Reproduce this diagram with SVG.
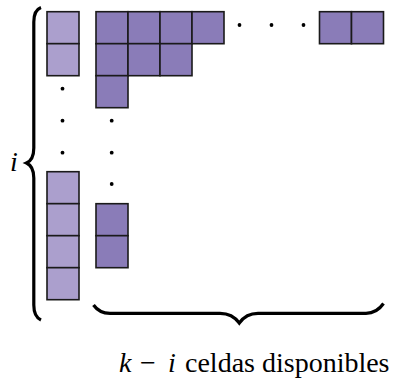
<svg xmlns="http://www.w3.org/2000/svg" width="400" height="383" viewBox="0 0 400 383">
<style>
.l{fill:#ab9fcd;stroke:#1a1a1a;stroke-width:1.6}
.d{fill:#8a7cb8;stroke:#1a1a1a;stroke-width:1.6}
.br{fill:none;stroke:#000;stroke-width:3.2;stroke-linecap:butt}
.dot{fill:#000}
</style>
<g id="left-column">
<rect class="l" x="47" y="11.7" width="32" height="32"/>
<rect class="l" x="47" y="43.7" width="32" height="32"/>
<rect class="l" x="47" y="171.7" width="32" height="32"/>
<rect class="l" x="47" y="203.7" width="32" height="32"/>
<rect class="l" x="47" y="235.7" width="32" height="32"/>
<rect class="l" x="47" y="267.7" width="32" height="32"/>
<circle class="dot" cx="62.5" cy="88.7" r="1.9"/>
<circle class="dot" cx="62.5" cy="120.7" r="1.9"/>
<circle class="dot" cx="62.5" cy="152.7" r="1.9"/>
</g>
<g id="row-1">
<rect class="d" x="96" y="11.7" width="32" height="32"/>
<rect class="d" x="128" y="11.7" width="32" height="32"/>
<rect class="d" x="160" y="11.7" width="32" height="32"/>
<rect class="d" x="192" y="11.7" width="32" height="32"/>
<circle class="dot" cx="239.5" cy="25" r="1.9"/>
<circle class="dot" cx="271.5" cy="25" r="1.9"/>
<circle class="dot" cx="303.5" cy="25" r="1.9"/>
<rect class="d" x="319.5" y="11.7" width="32" height="32"/>
<rect class="d" x="351.5" y="11.7" width="32" height="32"/>
</g>
<g id="row-2">
<rect class="d" x="96" y="43.7" width="32" height="32"/>
<rect class="d" x="128" y="43.7" width="32" height="32"/>
<rect class="d" x="160" y="43.7" width="32" height="32"/>
</g>
<g id="column-2">
<rect class="d" x="96" y="75.7" width="32" height="32"/>
<circle class="dot" cx="111.7" cy="120.7" r="1.9"/>
<circle class="dot" cx="111.7" cy="152.7" r="1.9"/>
<circle class="dot" cx="111.7" cy="184" r="1.9"/>
<rect class="d" x="96" y="203.7" width="32" height="32"/>
<rect class="d" x="96" y="235.7" width="32" height="32"/>
</g>
<g id="braces">
<path class="br" d="M41,7.5 C35.5,9.5 33.8,14 33.8,22 L33.8,148 C33.8,157 31,161 26.5,163 C31,165 33.8,169 33.8,178 L33.8,305 C33.8,313 35.5,317.5 41,320"/>
<path class="br" d="M93.5,305 C97,310 102,313.3 110,313.3 L220,313.3 C230,313.3 235,317 239.3,323 C243.5,317 248.5,313.3 258,313.3 L366,313.3 C374,313.3 379,310 383.5,303.5"/>
</g>
<g id="labels" font-family="Liberation Serif, DejaVu Serif, serif" font-size="28" fill="#000">
<text x="10" y="171" font-style="italic">i</text>
<text x="119" y="371.5"><tspan font-style="italic">k</tspan><tspan x="140">−</tspan><tspan x="168" font-style="italic">i</tspan><tspan x="185">celdas disponibles</tspan></text>
</g>
</svg>
